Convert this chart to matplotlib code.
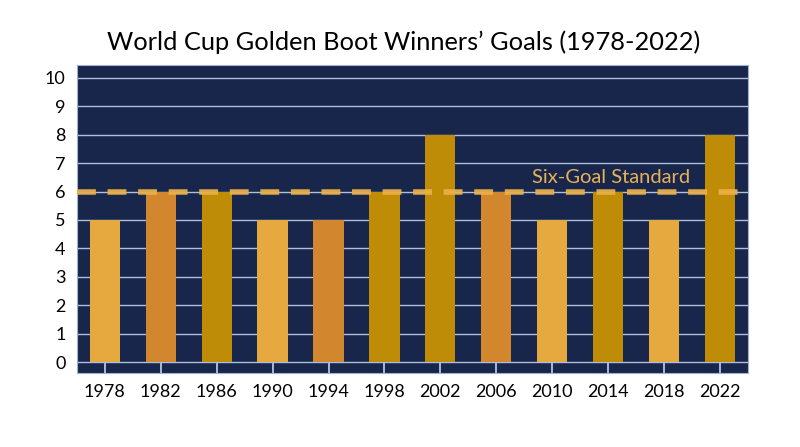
import matplotlib
matplotlib.use("Agg")
from matplotlib import pyplot as plt

years = ["1978", "1982", "1986", "1990", "1994", "1998",
         "2002", "2006", "2010", "2014", "2018", "2022"]
goals = [5, 6, 6, 5, 5, 6, 8, 6, 5, 6, 5, 8]
bar_colors = ["#E5A93F", "#D2862D", "#BF8C07", "#E5A93F", "#D2862D", "#BF8C07",
              "#BF8C07", "#D2862D", "#E5A93F", "#BF8C07", "#E5A93F", "#BF8C07"]
standard = 6

plt.rcParams["font.family"] = ["Lato", "DejaVu Sans"]

fig = plt.figure(figsize=(8, 4.47), dpi=100)
ax = fig.add_axes([0.096, 0.166, 0.839, 0.689])
ax.set_facecolor("#17264A")

x = range(len(years))
ax.bar(x, goals, width=0.54, color=bar_colors, zorder=3)

# reference line
ax.axhline(standard, color="#EBB24A", lw=4, dashes=(3.4, 2.1), alpha=0.92, zorder=4)
ax.text(10.47, standard + 0.2, "Six-Goal Standard", color="#E5B25A",
        fontsize=14.5, ha="right", va="bottom", zorder=5)

ax.set_xlim(-0.5, len(years) - 0.5)
ax.set_ylim(-0.38, 10.46)
ax.set_yticks(range(0, 11))
ax.set_xticks(list(x))
ax.set_xticklabels(years)
ax.grid(axis="y", color="#AEBEDC", lw=1.0, zorder=1)
ax.tick_params(axis="y", length=0, labelsize=13, pad=8)
ax.tick_params(axis="x", direction="in", length=10, width=1.2, color="#C5D2EA",
               labelsize=13, pad=8)
for s in ax.spines.values():
    s.set_color("#9FB2D6")
    s.set_linewidth(0.8)

fig.suptitle("World Cup Golden Boot Winners\u2019 Goals (1978-2022)",
             fontsize=18.3, x=0.504, y=0.906, va="center")

fig.savefig("out.png", dpi=100, facecolor="white")
